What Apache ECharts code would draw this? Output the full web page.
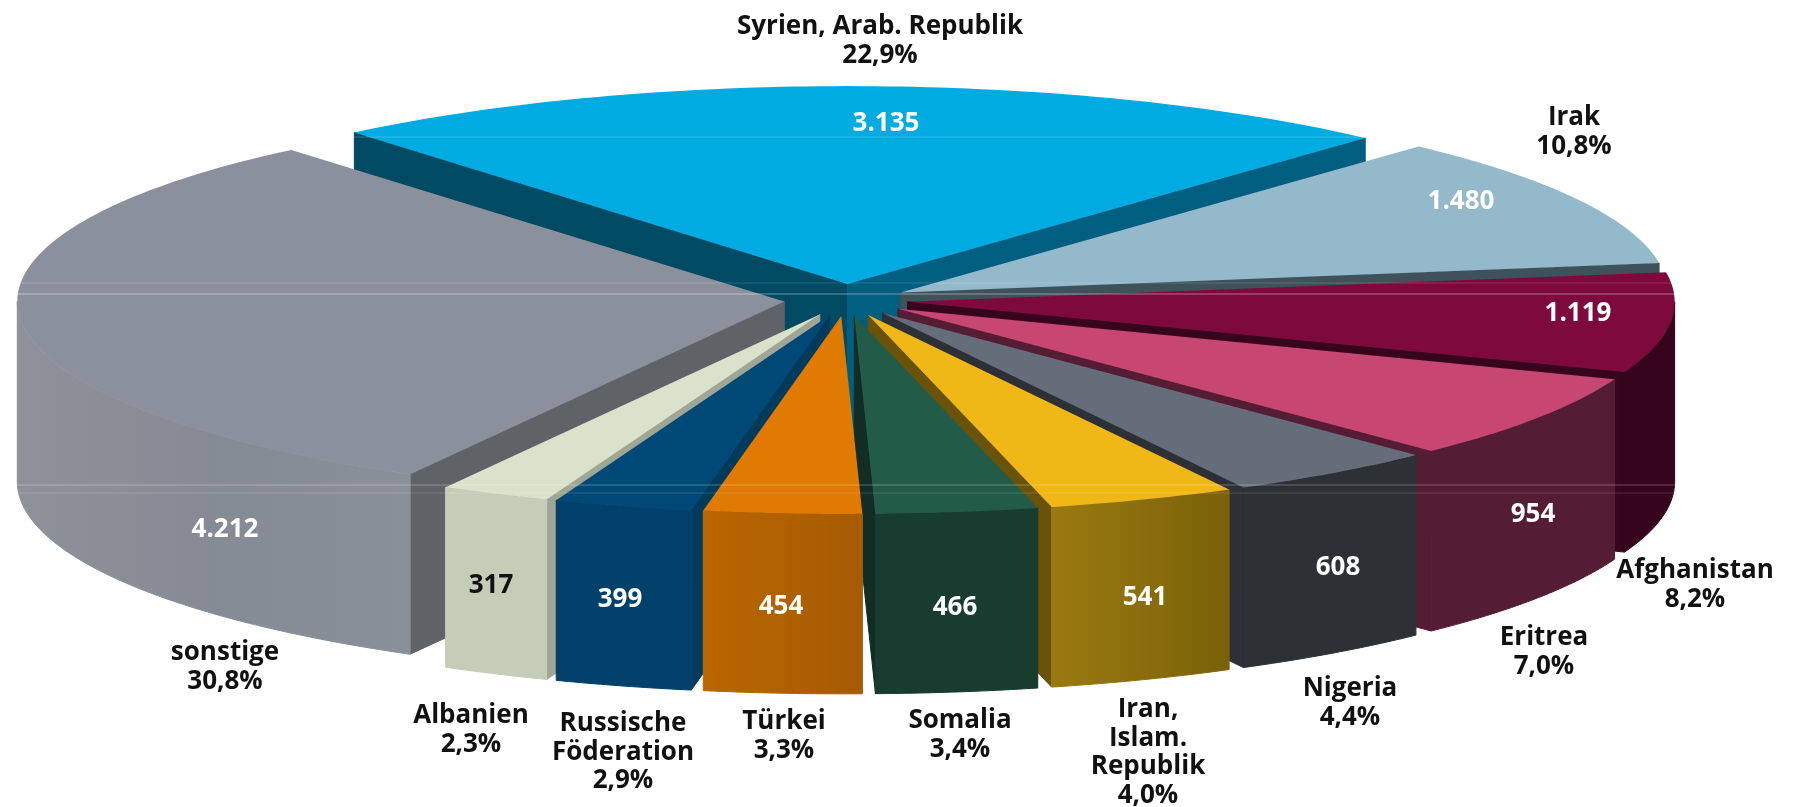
<!DOCTYPE html>
<html><head><meta charset="utf-8">
<style>html,body{margin:0;padding:0;background:#fff}#c{width:1793px;height:807px}</style>
<script src="https://cdn.jsdelivr.net/npm/echarts@6/dist/echarts.min.js"></script>
</head><body><div id="c"></div>
<script>
// --- data ---
const names = [["Syrien, Arab. Republik"],["Irak"],["Afghanistan"],["Eritrea"],["Nigeria"],["Iran,","Islam.","Republik"],["Somalia"],["Türkei"],["Russische","Föderation"],["Albanien"],["sonstige"]];
const values = [3135,1480,1119,954,608,541,466,454,399,317,4212];
const percents = ["22,9%","10,8%","8,2%","7,0%","4,4%","4,0%","3,4%","3,3%","2,9%","2,3%","30,8%"];

// --- styles ---
const topColors = ["#00ABE2","#93B9CB","#7E0A3D","#C74672","#656C7A","#EFB817","#225C49","#E07A00","#004876","#D9E2CA","#8B919C"];
const wallColors = ["#005E80","#3F525A","#36041C","#541D33","#2D3035",["#9A7A10","#7A6109"],"#183D30",["#BA6600","#A55B02"],"#00406A","#C5CCB8",["#8D9199","#858B95","#8A9099"]];
const cutStart = ["#004A63","#3F525A","#36041C","#541D33","#2D3035","#6A5208","#122D26","#A55B02","#003A5C","#A0A696","#5F6367"];
const cutEnd = ["#005E80","#3F525A","#36041C","#541D33","#2D3035","#6A5208","#122D26","#A55B02","#00426A","#C5CCB8","#5F6367"];
const valueColors = ["#fff","#fff","#fff","#fff","#fff","#fff","#fff","#fff","#fff","#111","#fff"];
const drawOrder = [0,1,10,2,3,4,5,9,8,6,7];

// --- layout ---
const CX=846, CY=300, R=767, K=0.258, EXPLODE=62, DEPTH=180, START=130;
const valuePos = [[886,124],[1461,202],[1578,314],[1533,515],[1338,568],[1145,598],[955,608],[781,607],[620,600],[491,586],[225,530]];
const namePos = [[880,27],[1574,118],[1695,571],[1544,638],[1350,689],[1148,710],[960,721],[784,722],[623,724],[471,716],[225,653]];
const LINE_H = 28.5;
const glossLines = [[137,0.22],[283,0.16],[294,0.42],[485,0.3],[493,0.16]];
const FONT = '"Open Sans"';

const total = values.reduce((a,b)=>a+b,0);
const rad = d=>d*Math.PI/180;
function sliceAngles(i){
  let before=0; for(let j=0;j<i;j++) before+=values[j];
  const a0=START-before/total*360, a1=a0-values[i]/total*360;
  return [a0,a1];
}
function renderSlice(params, api){
  const i=api.value(1), [a0,a1]=sliceAngles(i), mid=(a0+a1)/2;
  const ox=CX+EXPLODE*Math.cos(rad(mid)), oy=CY-EXPLODE*K*Math.sin(rad(mid));
  const P=(a,z)=>[ox+R*Math.cos(rad(a)), oy-R*K*Math.sin(rad(a))+z];
  const tip=[ox,oy], tipB=[ox,oy+DEPTH];
  const arc=[]; for(let a=a0;a>a1;a-=1) arc.push(P(a,0)); arc.push(P(a1,0));
  const kids=[];
  const poly=(points,fill,seal)=>kids.push({type:'polygon',shape:{points},style:{fill,stroke:seal?fill:null,lineWidth:seal?1:0}});
  // radial cut faces, only those turned towards the viewer
  if(Math.cos(rad(a0))<0) poly([tip,P(a0,0),P(a0,DEPTH),tipB],cutStart[i],true);
  if(Math.cos(rad(a1))>0) poly([tip,P(a1,0),P(a1,DEPTH),tipB],cutEnd[i],true);
  // outer wall: only the part of the rim that faces the viewer (angles -180..0)
  const hi=Math.min(a0,0), lo=Math.max(a1,-180);
  if(hi>lo){
    const wall=[]; for(let a=hi;a>lo;a-=0.5) wall.push(a); wall.push(lo);
    const up=wall.map(a=>P(a,0)), dn=wall.map(a=>P(a,DEPTH)).reverse();
    const c=wallColors[i];
    let fill=c;
    if(Array.isArray(c)){
      fill=new echarts.graphic.LinearGradient(0,0,1,0,c.map((col,n)=>({offset:n/(c.length-1),color:col})));
    }
    poly(up.concat(dn),fill,true);
  }
  // top face
  poly([tip].concat(arc),topColors[i],false);
  return {type:'group',children:kids};
}
function renderGloss(params, api){
  const y=api.value(0), o=api.value(1);
  return {type:'line',shape:{x1:0,y1:y,x2:1793,y2:y},style:{stroke:'rgba(255,255,255,'+o+')',lineWidth:1}};
}
function renderText(params, api){
  const i=api.value(0), kids=[];
  kids.push({type:'text',x:valuePos[i][0],y:valuePos[i][1],style:{text:values[i].toLocaleString('de-DE'),fill:valueColors[i],font:'bold 26px '+FONT,align:'center',verticalAlign:'middle'}});
  const lines=names[i].concat([percents[i]]);
  lines.forEach((t,n)=>kids.push({type:'text',x:namePos[i][0],y:namePos[i][1]+n*LINE_H,style:{text:t,fill:'#111',font:'bold 26px '+FONT,align:'center',verticalAlign:'middle'}}));
  return {type:'group',children:kids};
}
const chart=echarts.init(document.getElementById('c'),null,{renderer:'canvas'});
chart.setOption({
  animation:false,
  backgroundColor:'#fff',
  series:[
    {type:'custom',coordinateSystem:'none',silent:true,z:2,renderItem:renderSlice,data:drawOrder.map(i=>[values[i],i]),clip:false},
    {type:'custom',coordinateSystem:'none',silent:true,z:3,renderItem:renderGloss,data:glossLines},
    {type:'custom',coordinateSystem:'none',silent:true,z:4,renderItem:renderText,data:values.map((v,i)=>[i])}
  ]
});
</script></body></html>
